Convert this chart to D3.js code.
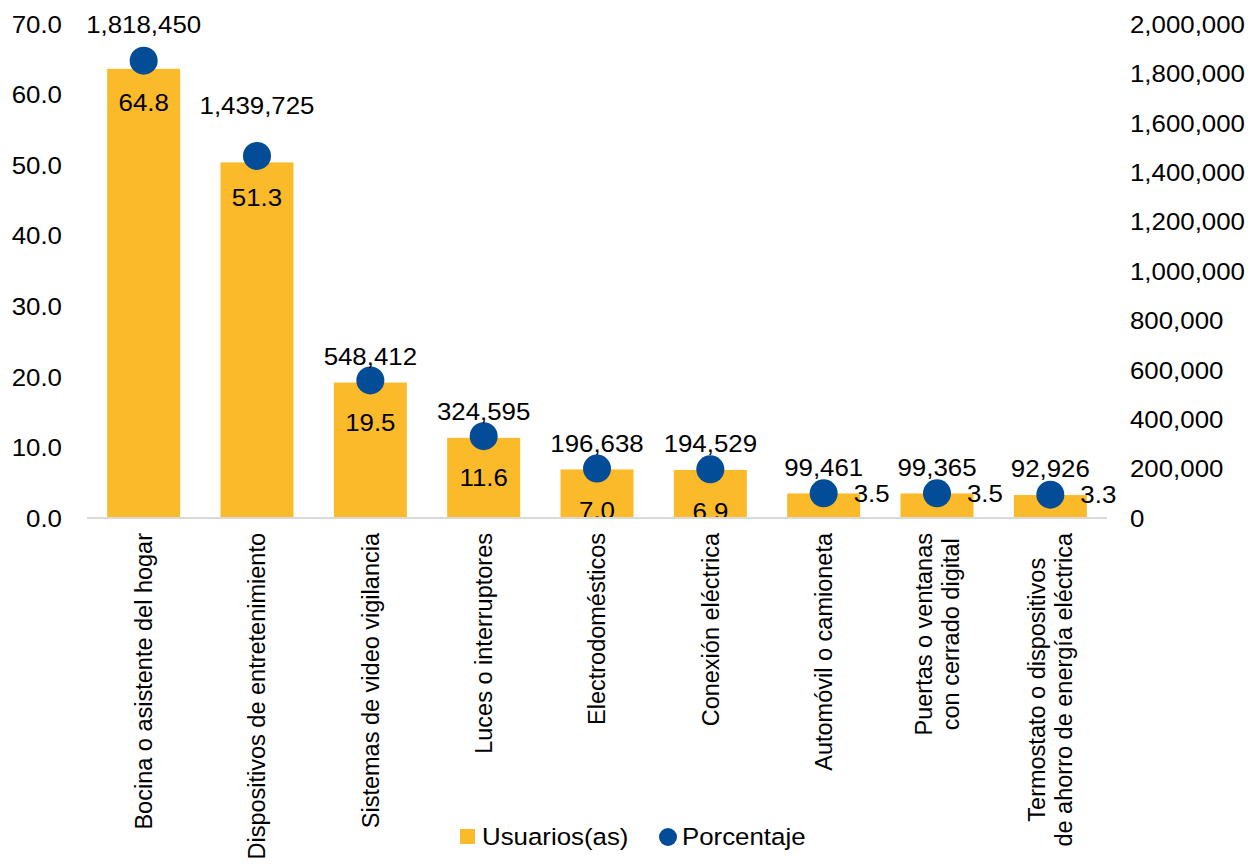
<!DOCTYPE html>
<html>
<head>
<meta charset="utf-8">
<script src="https://cdn.jsdelivr.net/npm/d3@7"></script>
<style>
  html, body { margin: 0; padding: 0; background: #fff; }
  svg text { font-family: "Liberation Sans", Arial, sans-serif; fill: #000; }
</style>
</head>
<body>
<svg id="chart" width="1259" height="867"></svg>
<script>
// ---- Data ----
const categories = [
  ["Bocina o asistente del hogar"],
  ["Dispositivos de entretenimiento"],
  ["Sistemas de video vigilancia"],
  ["Luces o interruptores"],
  ["Electrodomésticos"],
  ["Conexión eléctrica"],
  ["Automóvil o camioneta"],
  ["Puertas o ventanas", "con cerrado digital"],
  ["Termostato o dispositivos", "de ahorro de energía eléctrica"]
];
const usuarios = [1818450, 1439725, 548412, 324595, 196638, 194529, 99461, 99365, 92926];
const porcentaje = [64.8, 51.3, 19.5, 11.6, 7.0, 6.9, 3.5, 3.5, 3.3];
const leftTicks = [0, 10, 20, 30, 40, 50, 60, 70];
const rightTicks = [0, 200000, 400000, 600000, 800000, 1000000, 1200000, 1400000, 1600000, 1800000, 2000000];
const seriesNames = ["Usuarios(as)", "Porcentaje"];

// ---- Layout ----
const W = 1259, H = 867;
const plot = { left: 87, right: 1107, top: 24, bottom: 518 };
const FS = 23.5, SX = 1.1;
const yellow = "#FBBA29", blue = "#024C98";

const svg = d3.select("#chart");

const x = d3.scaleBand()
  .domain(d3.range(categories.length))
  .range([plot.left, plot.right])
  .paddingInner(0.356)
  .paddingOuter(0.178);
const yLeft = d3.scaleLinear().domain([0, 70]).range([plot.bottom, plot.top]);
const yRight = d3.scaleLinear().domain([0, 2000000]).range([plot.bottom, plot.top]);

const fmtPct = d3.format(".1f");
const fmtNum = d3.format(",");

function stretch(sel, tx, ty) {
  sel.attr("x", 0).attr("y", 0)
     .attr("transform", `translate(${tx},${ty}) scale(${SX},1)`);
}

// Axes (labels only)
const gL = svg.append("g").attr("transform", `translate(62,0)`)
  .call(d3.axisLeft(yLeft).tickValues(leftTicks).tickFormat(fmtPct).tickSize(0).tickPadding(0));
gL.select(".domain").remove();
gL.selectAll(".tick text").attr("font-size", FS).attr("font-family", "Liberation Sans, Arial, sans-serif")
  .attr("fill", "#000").attr("dy", "0.35em").attr("text-anchor", "end")
  .attr("x", 0).attr("transform", `scale(${SX},1)`);

const gR = svg.append("g").attr("transform", `translate(1130,0)`)
  .call(d3.axisRight(yRight).tickValues(rightTicks).tickFormat(fmtNum).tickSize(0).tickPadding(0));
gR.select(".domain").remove();
gR.selectAll(".tick text").attr("font-size", FS).attr("font-family", "Liberation Sans, Arial, sans-serif")
  .attr("fill", "#000").attr("dy", "0.35em").attr("text-anchor", "start")
  .attr("x", 0).attr("transform", `scale(${SX},1)`);

// Bars (usuarios, right axis)
svg.append("g").selectAll("rect").data(usuarios).join("rect")
  .attr("x", (d, i) => x(i))
  .attr("y", d => yRight(d))
  .attr("width", x.bandwidth())
  .attr("height", d => plot.bottom - yRight(d))
  .attr("fill", yellow);

// Baseline
svg.append("line")
  .attr("x1", plot.left).attr("x2", plot.right)
  .attr("y1", plot.bottom).attr("y2", plot.bottom)
  .attr("stroke", "#D9D9D9").attr("stroke-width", 2);

// Clip for labels inside plot
svg.append("clipPath").attr("id", "plotclip").append("rect")
  .attr("x", 0).attr("y", 0).attr("width", W).attr("height", plot.bottom - 1);

// Dots (porcentaje, left axis)
svg.append("g").selectAll("circle").data(porcentaje).join("circle")
  .attr("cx", (d, i) => x(i) + x.bandwidth() / 2)
  .attr("cy", d => yLeft(d))
  .attr("r", 14)
  .attr("fill", blue);

// Usuarios labels
const gLab = svg.append("g");
usuarios.forEach((v, i) => {
  const cx = x(i) + x.bandwidth() / 2;
  const barTop = yRight(v);
  const dotY = yLeft(porcentaje[i]);
  let yc = barTop - 26;
  if (dotY < barTop - 4) yc = dotY - (i === 0 ? 36 : 50);
  const t = gLab.append("text").attr("font-size", FS).attr("text-anchor", "middle")
    .attr("dy", "0.35em").text(fmtNum(v));
  stretch(t, cx, yc);
});

// Porcentaje labels
const gPct = svg.append("g").attr("clip-path", "url(#plotclip)");
porcentaje.forEach((v, i) => {
  const cx = x(i) + x.bandwidth() / 2;
  const dotY = yLeft(v);
  let t;
  if (dotY + 42 > plot.bottom + 4) {
    t = gPct.append("text").attr("font-size", FS).attr("text-anchor", "start")
      .attr("dy", "0.35em").text(fmtPct(v));
    stretch(t, cx + 30, dotY);
  } else {
    t = gPct.append("text").attr("font-size", FS).attr("text-anchor", "middle")
      .attr("dy", "0.35em").text(fmtPct(v));
    stretch(t, cx, dotY + 42);
  }
});

// Category labels (rotated)
const lineH = 27;
categories.forEach((lines, i) => {
  const cx = x(i) + x.bandwidth() / 2;
  const g = svg.append("g").attr("transform", `translate(${cx},533) rotate(-90)`);
  const texts = lines.map((ln, j) => g.append("text")
    .attr("font-size", FS)
    .attr("text-anchor", "middle")
    .attr("y", (j - (lines.length - 1) / 2) * lineH)
    .attr("dy", "0.35em")
    .text(ln));
  const maxLen = d3.max(texts, t => t.node().getComputedTextLength());
  texts.forEach(t => t.attr("x", -maxLen / 2));
});

// Legend
const lg = svg.append("g");
lg.append("rect").attr("x", 460).attr("y", 829).attr("width", 15).attr("height", 15).attr("fill", yellow);
stretch(lg.append("text").attr("font-size", FS).attr("dy", "0.35em").text(seriesNames[0]), 482, 837);
lg.append("circle").attr("cx", 668).attr("cy", 837).attr("r", 9).attr("fill", blue);
stretch(lg.append("text").attr("font-size", FS).attr("dy", "0.35em").text(seriesNames[1]), 682, 837);
</script>
</body>
</html>
